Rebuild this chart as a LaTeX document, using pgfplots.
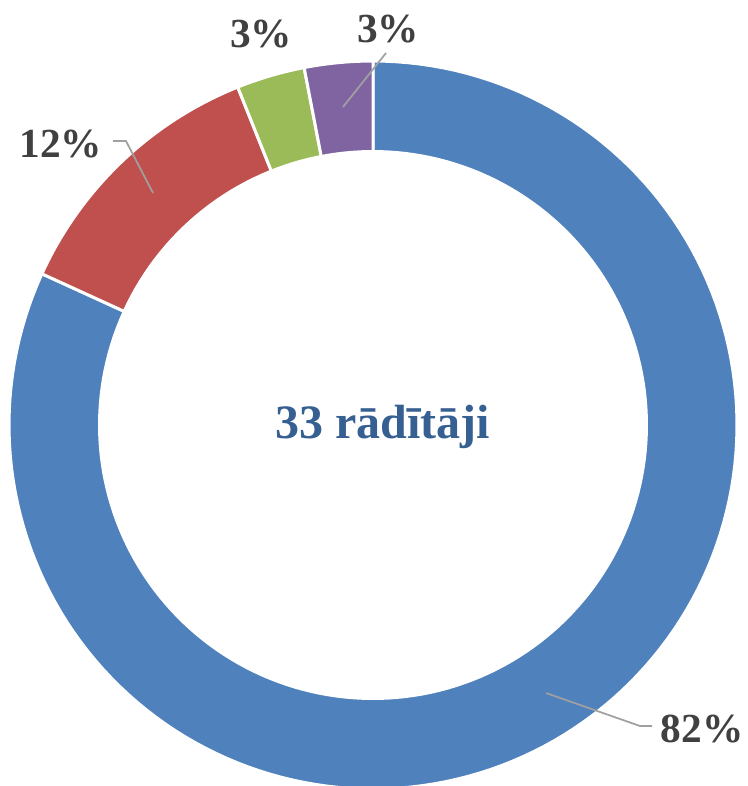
\documentclass[border=0pt]{standalone}
\usepackage{pgfplots}
\pgfplotsset{compat=1.18}
\usepackage{fontspec}
\setmainfont{Liberation Serif}
\definecolor{cBlue}{HTML}{4F81BD}
\definecolor{cRed}{HTML}{C0504D}
\definecolor{cGreen}{HTML}{9BBB59}
\definecolor{cPurple}{HTML}{8064A2}
\definecolor{cTitle}{HTML}{376092}
\definecolor{cLab}{HTML}{404040}
\definecolor{cLead}{HTML}{A0A0A0}
% values (number of indicators)
\def\vA{27}\def\vB{4}\def\vC{1}\def\vD{1}
\pgfmathsetmacro{\tot}{\vA+\vB+\vC+\vD}
\pgfmathsetmacro{\aA}{90}
\pgfmathsetmacro{\aB}{\aA-360*\vA/\tot}
\pgfmathsetmacro{\aC}{\aB-360*\vB/\tot}
\pgfmathsetmacro{\aD}{\aC-360*\vC/\tot}
\pgfmathsetmacro{\aE}{\aD-360*\vD/\tot}
\def\cx{373}\def\cy{425}\def\Ro{364}\def\Ri{275}
\begin{document}
\begin{tikzpicture}
\begin{axis}[
  x=0.75bp, y=0.75bp, scale only axis,
  xmin=0, xmax=748, ymin=0, ymax=786, y dir=reverse,
  hide axis, clip mode=individual,
]
\addplot[draw=none, forget plot] coordinates {(0,0) (748,786)};
\addplot[fill=cBlue, draw=white, line width=2.25bp, domain=\aB:\aA, samples=160]
  ({\cx+\Ro*cos(x)}, {\cy-\Ro*sin(x)}) -- (axis cs:\cx,\cy) -- cycle;
\addplot[fill=cRed, draw=white, line width=2.25bp, domain=\aC:\aB, samples=40]
  ({\cx+\Ro*cos(x)}, {\cy-\Ro*sin(x)}) -- (axis cs:\cx,\cy) -- cycle;
\addplot[fill=cGreen, draw=white, line width=2.25bp, domain=\aD:\aC, samples=20]
  ({\cx+\Ro*cos(x)}, {\cy-\Ro*sin(x)}) -- (axis cs:\cx,\cy) -- cycle;
\addplot[fill=cPurple, draw=white, line width=2.25bp, domain=\aE:\aD, samples=20]
  ({\cx+\Ro*cos(x)}, {\cy-\Ro*sin(x)}) -- (axis cs:\cx,\cy) -- cycle;
\addplot[fill=white, draw=none, domain=0:360, samples=200]
  ({\cx+\Ri*cos(x)}, {\cy-\Ri*sin(x)}) -- cycle;
% leader lines
\addplot[cLead, line width=1.3bp] coordinates {(546,693) (640,726) (652,726)};
\addplot[cLead, line width=1.3bp] coordinates {(113,141) (126,141) (153,193)};
\addplot[cLead, line width=1.3bp] coordinates {(386,53) (343,107)};
% labels
\node[anchor=base, inner sep=0, text=cLab, font=\fontsize{31bp}{37bp}\selectfont\bfseries] at (axis cs:702,742) {82\%};
\node[anchor=base, inner sep=0, text=cLab, font=\fontsize{31bp}{37bp}\selectfont\bfseries] at (axis cs:61,157) {12\%};
\node[anchor=base, inner sep=0, text=cLab, font=\fontsize{31bp}{37bp}\selectfont\bfseries] at (axis cs:261,47) {3\%};
\node[anchor=base, inner sep=0, text=cLab, font=\fontsize{31bp}{37bp}\selectfont\bfseries] at (axis cs:388,42) {3\%};
\node[anchor=base, inner sep=0, text=cTitle, font=\fontsize{36bp}{42bp}\selectfont\bfseries] at (axis cs:382.5,438) {33 rādītāji};
\end{axis}
\end{tikzpicture}
\end{document}
